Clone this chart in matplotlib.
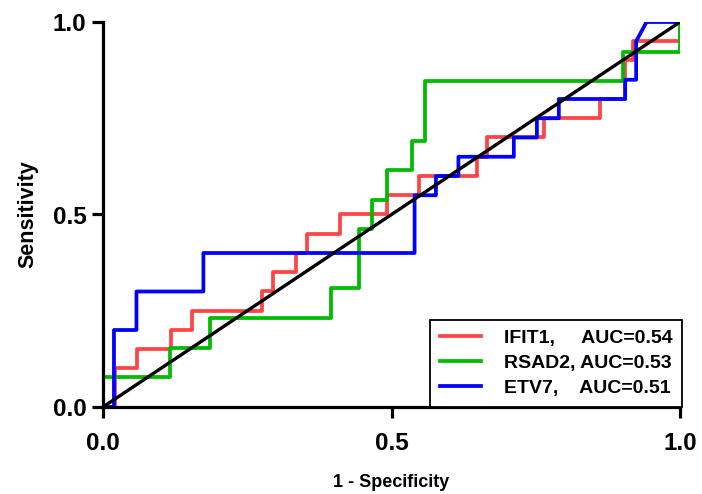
import matplotlib.pyplot as plt

plt.rcParams['font.family'] = ['Liberation Sans', 'DejaVu Sans']
plt.rcParams['font.weight'] = 'bold'

# ROC curve vertices (1 - specificity, sensitivity)
ifit1_fpr = [0, 0.02, 0.02, 0.059, 0.059, 0.117, 0.117, 0.155, 0.155, 0.275, 0.275, 0.294, 0.294,
             0.334, 0.334, 0.353, 0.353, 0.411, 0.411, 0.492, 0.492, 0.548, 0.548, 0.648, 0.648,
             0.666, 0.666, 0.765, 0.765, 0.861, 0.861, 0.905, 0.905, 0.918, 0.918, 1.0, 1.0]
ifit1_tpr = [0, 0, 0.10, 0.10, 0.15, 0.15, 0.20, 0.20, 0.25, 0.25, 0.30, 0.30, 0.35,
             0.35, 0.40, 0.40, 0.45, 0.45, 0.50, 0.50, 0.55, 0.55, 0.60, 0.60, 0.65,
             0.65, 0.70, 0.70, 0.75, 0.75, 0.80, 0.80, 0.90, 0.90, 0.95, 0.95, 1.0]

rsad2_fpr = [0, 0, 0.116, 0.116, 0.185, 0.185, 0.395, 0.395, 0.443, 0.443, 0.466, 0.466,
             0.492, 0.492, 0.535, 0.535, 0.558, 0.558, 0.902, 0.902, 1.0, 1.0]
rsad2_tpr = [0, 0.077, 0.077, 0.154, 0.154, 0.231, 0.231, 0.308, 0.308, 0.462, 0.462, 0.538,
             0.538, 0.615, 0.615, 0.692, 0.692, 0.846, 0.846, 0.923, 0.923, 1.0]

etv7_fpr = [0, 0.019, 0.019, 0.058, 0.058, 0.174, 0.174, 0.54, 0.54, 0.577, 0.577, 0.616, 0.616,
            0.712, 0.712, 0.752, 0.752, 0.79, 0.79, 0.905, 0.905, 0.924, 0.924, 0.942, 1.0]
etv7_tpr = [0, 0, 0.2, 0.2, 0.3, 0.3, 0.4, 0.4, 0.55, 0.55, 0.6, 0.6, 0.65,
            0.65, 0.70, 0.70, 0.75, 0.75, 0.8, 0.8, 0.85, 0.85, 0.95, 1.0, 1.0]

labels = ['IFIT1,     AUC=0.54', 'RSAD2, AUC=0.53', 'ETV7,    AUC=0.51']
colors = ['#FF4444', '#00BB00', '#0000FF']

fig = plt.figure(figsize=(7.02, 4.94), dpi=100)
ax = fig.add_axes([103 / 702, 1 - 407 / 494, 577 / 702, 385 / 494])

ax.plot(ifit1_fpr, ifit1_tpr, color=colors[0], lw=2.7, label=labels[0])
ax.plot(rsad2_fpr, rsad2_tpr, color=colors[1], lw=2.7, label=labels[1])
ax.plot(etv7_fpr, etv7_tpr, color=colors[2], lw=2.7, label=labels[2])
ax.plot([0, 1], [0, 1], color='black', lw=2.4)

ax.set_xlim(0, 1)
ax.set_ylim(0, 1)
ax.set_xticks([0, 0.5, 1.0])
ax.set_yticks([0, 0.5, 1.0])
ax.set_xticklabels(['0.0', '0.5', '1.0'])
ax.set_yticklabels(['0.0', '0.5', '1.0'])

for s in ['top', 'right']:
    ax.spines[s].set_visible(False)
for s in ['left', 'bottom']:
    ax.spines[s].set_linewidth(2.3)
ax.tick_params(axis='both', direction='out', length=8, width=2.3, labelsize=17.5)
ax.tick_params(axis='x', pad=10)
ax.tick_params(axis='y', pad=4)
for lab in ax.get_xticklabels() + ax.get_yticklabels():
    lab.set_fontweight('bold')

ax.set_xlabel('1 - Specificity', fontsize=13, fontweight='bold', labelpad=14)
ax.set_ylabel('Sensitivity', fontsize=15.5, fontweight='bold', labelpad=10)

leg = ax.legend(loc='lower right', bbox_to_anchor=(1.004, 0), borderaxespad=0,
                fontsize=14, frameon=True, fancybox=False, framealpha=1,
                handlelength=2.1, handletextpad=1.2, labelspacing=0.38, borderpad=0.5)
leg.get_frame().set_edgecolor('black')
leg.get_frame().set_linewidth(1.3)
for t in leg.get_texts():
    t.set_fontweight('bold')

fig.savefig('out.png', dpi=100)
